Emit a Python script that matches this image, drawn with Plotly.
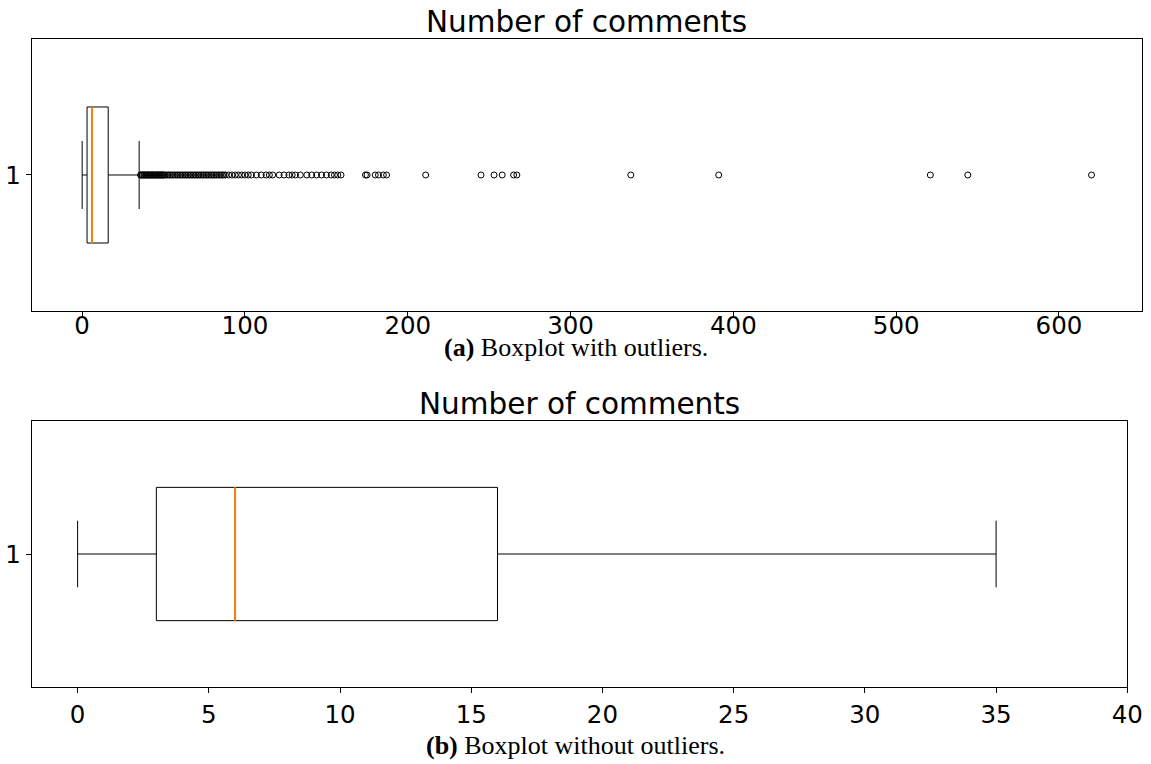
import plotly.graph_objects as go

# ---- data ----
series_label = [1]
q1 = [3]
median = [6]
q3 = [16]
whisker_low = [0]
whisker_high = [35]
outliers = [36, 36, 37, 37, 38, 38, 39, 39, 40, 40, 41, 41, 42, 42, 43, 43, 44, 44,
            45, 45, 46, 46, 47, 47, 48, 48, 49, 49, 50, 50, 51, 52, 53, 54, 55, 56,
            57, 58, 59, 60, 61, 62, 63, 64, 65, 66, 67, 68, 69, 70, 71, 72, 73, 74,
            75, 76, 77, 78, 79, 80, 81, 82, 83, 84, 85, 86, 87, 88, 90, 92, 94, 96,
            98, 100, 102, 104, 107, 110, 113, 115, 117, 121, 124, 127, 129, 131,
            134, 138, 141, 144, 147, 150, 153, 155, 157, 159, 174, 175, 180, 182,
            185, 187, 211, 245, 253, 258, 265, 267, 337, 391, 521, 544, 620]
top_xticks = [0, 100, 200, 300, 400, 500, 600]
bottom_xticks = [0, 5, 10, 15, 20, 25, 30, 35, 40]
title_text = "Number of comments"
caption_a = "<b>(a)</b> Boxplot with outliers."
caption_b = "<b>(b)</b> Boxplot without outliers."

BOX_W = 0.5
ORANGE = "#ff7f0e"
TICK_FONT = dict(family="DejaVu Sans", size=24.5, color="black")

fig = go.Figure()

for xa, ya, show_out in (("x", "y", True), ("x2", "y2", False)):
    fig.add_trace(go.Box(
        y=series_label, q1=q1, median=median, q3=q3,
        lowerfence=whisker_low, upperfence=whisker_high,
        orientation="h", width=BOX_W, whiskerwidth=0.5,
        fillcolor="rgba(0,0,0,0)", line=dict(color="black", width=1),
        boxpoints=False, xaxis=xa, yaxis=ya, showlegend=False, hoverinfo="skip"))
    fig.add_trace(go.Box(
        y=series_label, q1=median, median=median, q3=median,
        lowerfence=median, upperfence=median,
        orientation="h", width=BOX_W, whiskerwidth=0,
        fillcolor="rgba(0,0,0,0)", line=dict(color=ORANGE, width=2),
        boxpoints=False, xaxis=xa, yaxis=ya, showlegend=False, hoverinfo="skip"))
    if show_out:
        fig.add_trace(go.Scatter(
            x=outliers, y=[series_label[0]] * len(outliers), mode="markers",
            marker=dict(symbol="circle-open", size=6, color="black",
                        line=dict(width=1, color="black")),
            xaxis=xa, yaxis=ya, showlegend=False, hoverinfo="skip"))

axis_common = dict(showgrid=False, zeroline=False, showline=True, mirror=True,
                   linecolor="black", linewidth=1, ticks="outside", ticklen=5,
                   tickcolor="black", tickfont=TICK_FONT, automargin=False)

fig.update_layout(
    width=1151, height=764, margin=dict(l=0, r=0, t=0, b=0, pad=0),
    paper_bgcolor="white", plot_bgcolor="white",
    xaxis=dict(domain=[0.02754, 0.99218], range=[-31, 651], tickvals=top_xticks,
               anchor="y", ticklabelstandoff=-12, **axis_common),
    yaxis=dict(domain=[0.5929, 0.9490], range=[0.5, 1.5], tickvals=series_label,
               ticktext=[str(v) for v in series_label], anchor="x", **axis_common),
    xaxis2=dict(domain=[0.02754, 0.97941], range=[-1.75, 40], tickvals=bottom_xticks,
                anchor="y2", **axis_common),
    yaxis2=dict(domain=[0.1004, 0.4493], range=[0.5, 1.5], tickvals=series_label,
                ticktext=[str(v) for v in series_label], anchor="x2", **axis_common),
)

ann = []
ann.append(dict(text=title_text, x=(0.02754 + 0.99218) / 2, y=1 - 22 / 764,
                xref="paper", yref="paper", showarrow=False, yanchor="middle",
                font=dict(family="DejaVu Sans", size=29.5, color="black")))
ann.append(dict(text=title_text, x=(0.02754 + 0.97941) / 2, y=1 - 404 / 764,
                xref="paper", yref="paper", showarrow=False, yanchor="middle",
                font=dict(family="DejaVu Sans", size=29.5, color="black")))
ann.append(dict(text=caption_a, x=0.5, y=1 - 347 / 764, xref="paper", yref="paper",
                showarrow=False, yanchor="middle",
                font=dict(family="Liberation Serif", size=26, color="black")))
ann.append(dict(text=caption_b, x=0.5, y=1 - 745 / 764, xref="paper", yref="paper",
                showarrow=False, yanchor="middle",
                font=dict(family="Liberation Serif", size=26, color="black")))
fig.update_layout(annotations=ann)

fig.write_html("out.html", config={"displayModeBar": False},
               post_script="document.body.style.margin='0';document.body.style.padding='0';")
